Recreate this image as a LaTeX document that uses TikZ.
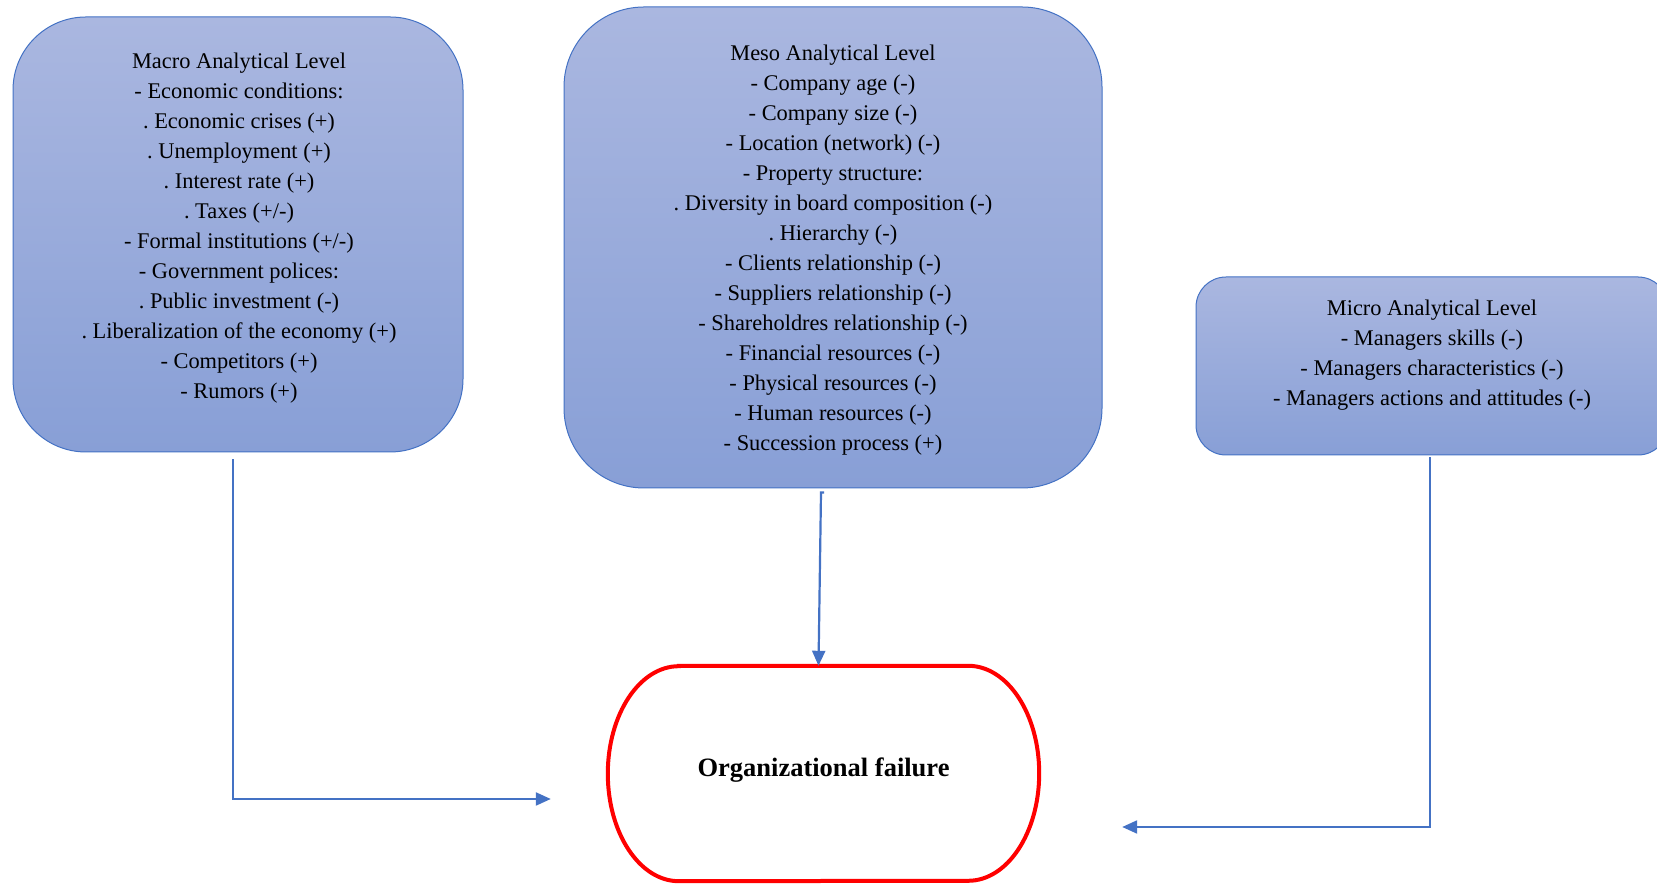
\documentclass[tikz,border=0pt]{standalone}
\usepackage{fontspec}
\setmainfont{Liberation Serif}
\usetikzlibrary{arrows.meta}
\frenchspacing
\definecolor{levelblue}{RGB}{68,114,196}
\definecolor{leveltop}{RGB}{170,183,224}
\definecolor{levelbottom}{RGB}{136,159,214}
\tikzset{
	levelbox/.style={draw=levelblue, line width=1pt, top color=leveltop, bottom color=levelbottom, inner sep=0pt},
	leveltext/.style={align=center, inner sep=0pt, font=\fontsize{22.4}{30}\selectfont},
	flow/.style={draw=levelblue, line width=2.2pt, -{Triangle[length=15pt,width=13pt]}},
}
\begin{document}
\begin{tikzpicture}[x=1pt, y=1pt]
			%%%%% START %%%%%
			\useasboundingbox (0, 0) rectangle (1657, 885);
			
			\node[levelbox, rounded corners=73pt, minimum width=450pt, minimum height=435pt] (macro) at (238, 650.5) {};
			\node[leveltext] (macrotext) at ([xshift=1pt, yshift=6.5pt]macro.center) {Macro Analytical Level\\- Economic conditions:\\. Economic crises (+)\\. Unemployment (+)\\. Interest rate (+)\\. Taxes (+/-)\\- Formal institutions (+/-)\\- Government polices:\\. Public investment (-)\\. Liberalization of the economy (+)\\- Competitors (+)\\- Rumors (+)};
			
			\node[levelbox, rounded corners=80pt, minimum width=538pt, minimum height=481pt] (meso) at (833, 637.5) {};
			\node[leveltext] (mesotext) at ([yshift=-2.5pt]meso.center) {Meso Analytical Level\\- Company age (-)\\- Company size (-)\\- Location (network) (-)\\- Property structure:\\. Diversity in board composition (-)\\. Hierarchy (-)\\- Clients relationship (-)\\- Suppliers relationship (-)\\- Shareholdres relationship (-)\\- Financial resources (-)\\- Physical resources (-)\\- Human resources (-)\\- Succession process (+)};
			
			\node[levelbox, rounded corners=30pt, minimum width=472pt, minimum height=178pt] (micro) at (1432, 519) {};
			\node[leveltext] (microtext) at ([yshift=10.5pt]micro.center) {Micro Analytical Level\\- Managers skills (-)\\- Managers characteristics (-)\\- Managers actions and attitudes (-)};
			
			\node[minimum width=431pt, minimum height=215pt, inner sep=0pt, text depth=0pt, font=\fontsize{26.5}{30}\selectfont\bfseries] (fail) at (823.5, 111.5) {};
			\node[inner sep=0pt, font=\fontsize{26.5}{30}\selectfont\bfseries] (failtext) at ([yshift=3pt]fail.center) {Organizational failure};
			\draw[red, line width=4pt] ([xshift=71pt]fail.north west) -- ([xshift=-71pt]fail.north east) arc[start angle=90, end angle=-90, x radius=71pt, y radius=107.5pt] -- ([xshift=71pt]fail.south west) arc[start angle=270, end angle=90, x radius=71pt, y radius=107.5pt] -- cycle;
			
			\coordinate (macroout) at ([xshift=-5pt, yshift=-7pt]macro.south);
			\coordinate (macroend) at ([xshift=-57pt, yshift=-25.5pt]fail.west);
			\draw[flow] (macroout) |- (macroend);
			
			\coordinate (mesoout) at ([xshift=-9pt, yshift=-4pt]meso.south);
			\draw[flow] (mesoout) -- ++(-3, 0) -- ([xshift=-5pt]fail.north);
			
			\coordinate (microout) at ([xshift=-2pt, yshift=-2pt]micro.south);
			\coordinate (microend) at ([xshift=83pt, yshift=-53.5pt]fail.east);
			\draw[flow] (microout) |- (microend);
			%%%%% END %%%%%
\end{tikzpicture}
\end{document}
